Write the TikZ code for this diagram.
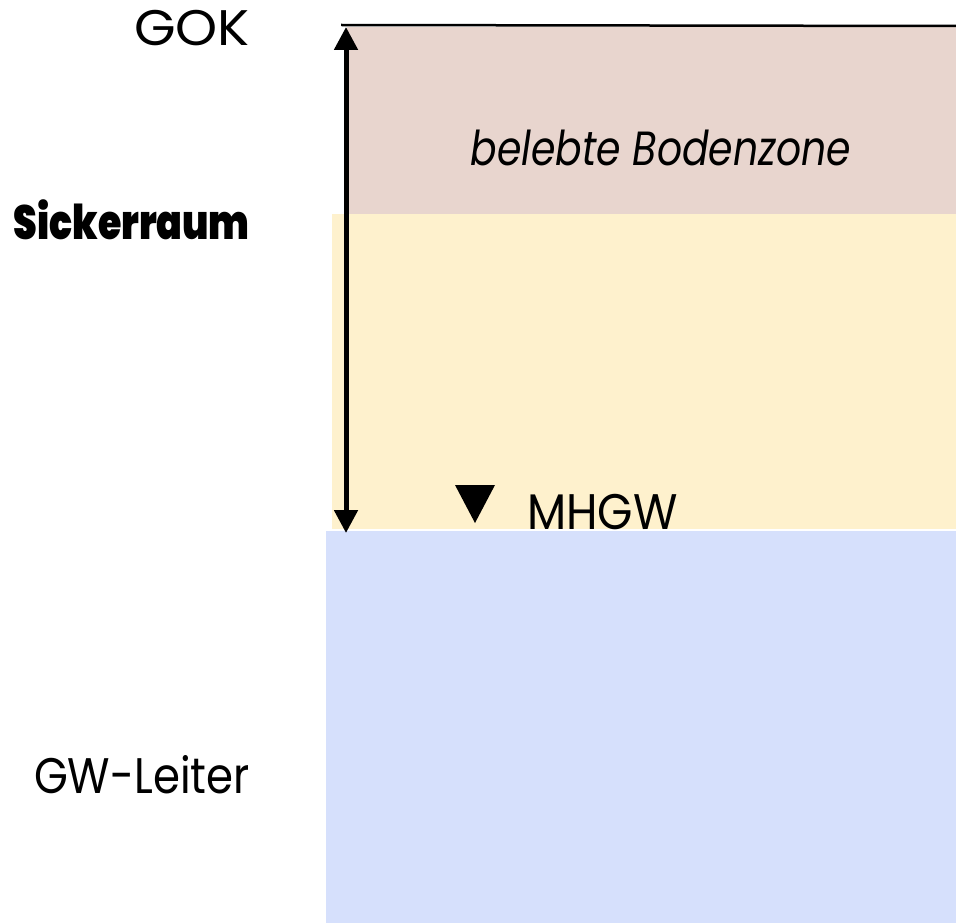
\documentclass[tikz,border=0pt]{standalone}
\usepackage{fontspec}
\setmainfont{Poppins}
\newfontfamily\heavyfont{Poppins Black}
\usetikzlibrary{positioning}
\usetikzlibrary{calc}
\usetikzlibrary{arrows.meta}
\definecolor{soilbrown}{HTML}{E8D5CE}
\definecolor{seepyellow}{HTML}{FEF1CD}
\definecolor{waterblue}{HTML}{D6E0FC}
\tikzset{
    % Solid triangular tips for the depth arrow
    >={Triangle[length=23pt, width=23pt]},
%
    % One ground layer, placed by its top left corner
    layer/.style={draw=none, anchor=north west, inner sep=0, outer sep=0},
%
    % Labels at the left of the section
    side label/.style={anchor=base east, inner sep=0,
        font=\fontsize{50}{56}\selectfont},
%
    % Labels inside the section
    zone label/.style={anchor=base, inner sep=0,
        font=\fontsize{50}{56}\selectfont}}

\begin{document}
\begin{tikzpicture}[x=1pt, y=-1pt]

\useasboundingbox (0,0) rectangle (956,923);

\node [layer, fill=soilbrown, minimum width=609pt, minimum height=187pt]
    (soil) at (347,27) {};
\node [layer, fill=seepyellow, minimum width=624pt, minimum height=315pt]
    (seepage) at (332,214) {};
\node [layer, fill=waterblue, minimum width=630pt, minimum height=392pt]
    (aquifer) at (326,531) {};

\coordinate (gok) at (346,27);
\coordinate (mhgw) at (346,533);
\coordinate (surface end) at (956,26);

\draw [line width=2.5pt] ($(gok)+(-5,-2)$) -- (surface end);
\draw [<->, line width=5pt] (gok) -- (mhgw);

\node [zone label, font=\fontsize{48}{54}\selectfont\itshape]
    (topsoil) at (661,165) {\scalebox{0.82}[1]{belebte Bodenzone}};

\coordinate (marker) at (475,504);
\fill (marker) ++(-20,-19) -- ++(40,0) -- ++(-20,38) -- cycle;
\node [zone label, anchor=base west]
    (mhgw label) at (527,529) {\scalebox{0.91}[1]{MHGW}};

\node [side label] (gok label) at (250,46) {\scalebox{1.07}[1]{GOK}};
\node [side label, font=\fontsize{48}{54}\selectfont\heavyfont]
    (seepage label) at (250,239) {\scalebox{0.79}[1]{Sickerraum}};
\node [side label] (aquifer label) at (250,793) {\scalebox{0.87}[1]{GW-Leiter}};

\end{tikzpicture}
\end{document}
